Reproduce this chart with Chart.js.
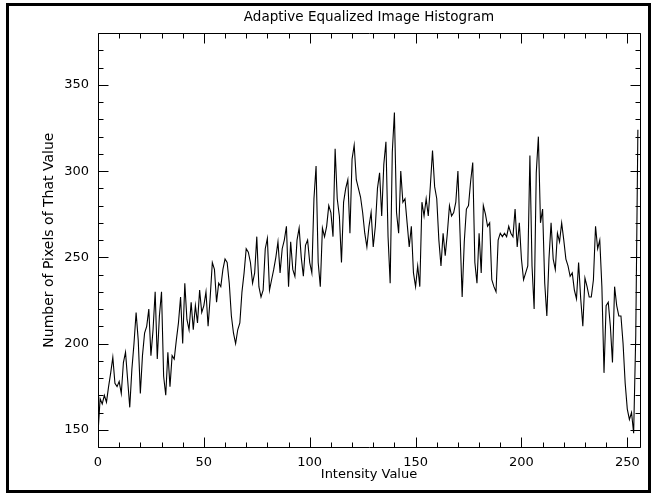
<!DOCTYPE html>
<html>
<head>
<meta charset="utf-8">
<script src="https://cdn.jsdelivr.net/npm/chart.js@4.4.1/dist/chart.umd.min.js"></script>
<style>
  html, body { margin: 0; padding: 0; background: #fff; }
  #wrap { width: 653px; height: 496px; }
</style>
</head>
<body>
<div id="wrap"><canvas id="grafico" width="653" height="496"></canvas></div>
<script>
// textos
const titulo = "Adaptive Equalized Image Histogram";
const tituloX = "Intensity Value";
const tituloY = "Number of Pixels of That Value";

// histograma (um valor por nível de intensidade, 0..255)
const contagens = [
  148, 168, 165, 170, 166, 175, 183, 192, 177, 175, 178, 171, 189, 195, 179, 163,
  185, 200, 218, 202, 171, 193, 206, 210, 220, 193, 208, 230, 191, 216, 230, 181,
  170, 195, 175, 193, 191, 202, 212, 227, 200, 235, 214, 208, 224, 208, 222, 212,
  231, 218, 222, 230, 210, 227, 247, 243, 224, 235, 233, 243, 249, 247, 235, 216,
  206, 200, 208, 212, 230, 241, 255, 253, 247, 235, 241, 262, 233, 227, 231, 255,
  261, 231, 237, 243, 250, 259, 241, 255, 260, 268, 233, 259, 243, 239, 260, 267,
  250, 239, 257, 260, 247, 241, 284, 303, 247, 233, 267, 262, 268, 280, 276, 262,
  313, 284, 274, 247, 282, 290, 295, 264, 307, 315, 295, 290, 285, 276, 264, 256,
  268, 276, 256, 268, 290, 299, 274, 304, 317, 262, 235, 311, 334, 276, 264, 300,
  282, 284, 270, 256, 268, 241, 233, 245, 233, 282, 274, 284, 274, 292, 312, 291,
  284, 260, 245, 264, 251, 264, 280, 274, 276, 282, 300, 264, 227, 259, 278, 280,
  294, 305, 247, 235, 264, 241, 280, 275, 268, 270, 237, 233, 230, 260, 264, 262,
  264, 262, 268, 264, 262, 278, 256, 270, 249, 237, 241, 245, 309, 245, 220, 299,
  320, 270, 278, 235, 216, 249, 270, 249, 243, 264, 259, 270, 260, 249, 245, 239,
  241, 231, 226, 247, 226, 210, 238, 233, 227, 227, 237, 268, 255, 260, 233, 183,
  222, 224, 210, 189, 233, 222, 216, 216, 200, 177, 162, 156, 160, 148, 205, 324
];
const intensidades = contagens.map((_, i) => i);

// eixos
const limitesX = [0, 256];
const limitesY = [140, 380];
const passoMaior = 50;
const passoMenor = 10;

const fonte = "'DejaVu Sans', sans-serif";

// moldura estilo IDL: eixos fechados com marcas para dentro + borda externa
const molduraIDL = {
  id: "molduraIDL",
  afterDraw(chart) {
    const { ctx, chartArea: a, scales: { x, y } } = chart;
    const L = Math.round(a.left) + 0.5, R = Math.round(a.right) + 0.5;
    const T = Math.round(a.top) + 0.5, B = Math.round(a.bottom) + 0.5;
    ctx.save();
    ctx.strokeStyle = "#000";
    ctx.lineWidth = 1;
    ctx.beginPath();
    ctx.rect(L, T, R - L, B - T);

    for (let v = limitesX[0]; v <= limitesX[1]; v += passoMenor) {
      const px = Math.round(x.getPixelForValue(v)) + 0.5;
      const len = v % passoMaior === 0 ? 10 : 5;
      ctx.moveTo(px, B); ctx.lineTo(px, B - len);
      ctx.moveTo(px, T); ctx.lineTo(px, T + len);
    }
    for (let v = limitesY[0]; v <= limitesY[1]; v += passoMenor) {
      const py = Math.round(y.getPixelForValue(v)) + 0.5;
      const len = v % passoMaior === 0 ? 10 : 5;
      ctx.moveTo(L, py); ctx.lineTo(L + len, py);
      ctx.moveTo(R, py); ctx.lineTo(R - len, py);
    }
    ctx.stroke();

    // borda da imagem
    ctx.lineWidth = 3;
    ctx.strokeRect(7.5, 4.5, 642, 487);
    ctx.restore();
  }
};

new Chart(document.getElementById("grafico"), {
  type: "line",
  data: {
    datasets: [{
      data: intensidades.map((i) => ({ x: i, y: contagens[i] })),
      borderColor: "#000",
      borderWidth: 1.1,
      pointRadius: 0,
      tension: 0,
      fill: false
    }]
  },
  options: {
    responsive: false,
    animation: false,
    layout: { padding: { left: 8, right: 13, top: 4, bottom: 8 } },
    plugins: {
      legend: { display: false },
      tooltip: { enabled: false },
      title: {
        display: true,
        fullSize: false,
        text: titulo,
        color: "#000",
        font: { family: fonte, size: 13.5, weight: "normal" },
        padding: { top: 5, bottom: 8 }
      }
    },
    scales: {
      x: {
        type: "linear",
        min: limitesX[0],
        max: limitesX[1],
        grid: { display: false, drawTicks: false },
        border: { display: false },
        ticks: {
          stepSize: passoMaior,
          includeBounds: false,
          autoSkip: false,
          maxRotation: 0,
          padding: 8,
          color: "#000",
          font: { family: fonte, size: 13 }
        },
        title: {
          display: true,
          text: tituloX,
          color: "#000",
          font: { family: fonte, size: 13 },
          padding: { top: 0, bottom: 6 }
        },
        afterFit: (s) => { s.height = 41; }
      },
      y: {
        min: limitesY[0],
        max: limitesY[1],
        grid: { display: false, drawTicks: false },
        border: { display: false },
        ticks: {
          stepSize: passoMaior,
          includeBounds: false,
          padding: 9,
          color: "#000",
          font: { family: fonte, size: 13 }
        },
        title: {
          display: true,
          text: tituloY,
          color: "#000",
          font: { family: fonte, size: 14 },
          padding: { top: 33, bottom: 0 }
        },
        afterFit: (s) => { s.width = 90; }
      }
    }
  },
  plugins: [molduraIDL]
});
</script>
</body>
</html>
